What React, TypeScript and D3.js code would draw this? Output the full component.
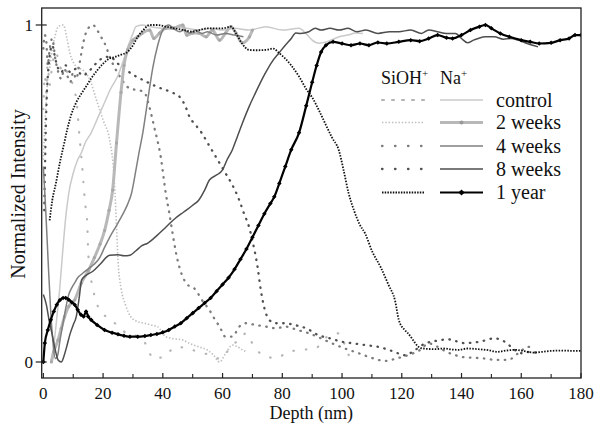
import React from 'react';
import * as d3 from 'd3';

type Pt = [number, number];

const xTicks = [0, 20, 40, 60, 80, 100, 120, 140, 160, 180];
const xMinorTicks = [10, 30, 50, 70, 90, 110, 130, 150, 170];
const yTicks = [0, 1];
const legendLabels = ['control', '2 weeks', '4 weeks', '8 weeks', '1 year'];

// Na+ profiles [depth nm, normalized intensity]
const naControl: Pt[] = [
  [2.5, 0], [3.5, 0.05], [4.5, 0.13], [5.5, 0.22], [6.5, 0.33], [7.5, 0.43], [8.5, 0.5], [10, 0.56],
  [11.5, 0.6], [12.7, 0.62], [14, 0.65], [16, 0.68], [18, 0.72], [20.5, 0.77], [22.5, 0.81], [25, 0.85],
  [27, 0.9], [28.5, 0.94], [30, 0.975], [31, 0.995], [33, 1.0], [36, 0.995], [40, 0.99], [44, 0.995],
  [48, 0.99], [52, 0.985], [56, 0.99], [60, 0.985], [64, 0.99], [69, 0.985], [74.5, 0.995], [80, 0.985],
  [85.6, 0.99], [87.8, 0.976], [90, 0.955], [92.2, 0.946], [95, 0.95], [99, 0.965], [102, 0.97],
  [104.5, 0.976], [107, 0.975],
];
const naTwoWeeks: Pt[] = [
  [2.7, 0], [3.5, 0.03], [4.9, 0.065], [6, 0.1], [7.1, 0.134], [8.5, 0.165], [10.5, 0.184], [12.7, 0.234],
  [15, 0.27], [17.1, 0.31], [19, 0.35], [20.5, 0.39], [22, 0.45], [23.2, 0.51], [24.5, 0.65], [26, 0.8],
  [27, 0.88], [28.2, 0.926], [30, 0.955], [31.6, 0.965], [33, 0.975], [35.6, 0.985], [37, 0.96],
  [38.9, 0.976], [41, 0.99], [43.3, 0.99], [46.7, 1.0], [48, 0.97], [50, 0.976], [52, 0.976],
  [54.5, 0.965], [56.6, 0.985], [59, 0.955], [61, 0.976], [62.8, 0.995], [64.5, 0.976], [66.6, 0.947],
  [69, 0.965], [70, 0.985],
];
const naFourWeeks: Pt[] = [
  [0, 0.58], [0.8, 0.45], [1.6, 0.3], [2.4, 0.16], [3.2, 0.06], [4, 0.01], [4.8, 0.02], [5.5, 0.06],
  [6.5, 0.11], [7.5, 0.16], [8.5, 0.2], [9.5, 0.22], [10.5, 0.235], [11.5, 0.25], [13, 0.262],
  [15.6, 0.28], [17, 0.29], [18.9, 0.31], [20.5, 0.34], [22.2, 0.37], [24.5, 0.405], [26.7, 0.44],
  [28.3, 0.47], [29.5, 0.5], [31, 0.57], [32, 0.62], [33.3, 0.68], [35, 0.78], [36.7, 0.876],
  [38.3, 0.94], [40, 0.985], [42, 1.0], [43.5, 0.99], [45.6, 0.98], [47, 0.985], [49, 0.976],
  [51, 0.985], [53, 0.975], [55, 0.98], [58, 0.97], [61, 0.975], [64, 0.97], [67, 0.965],
];
const naEightWeeks: Pt[] = [
  [0, 0.2], [1, 0.17], [2, 0.12], [3, 0.08], [4, 0.035], [5, 0.005], [6, 0.0], [7, 0.02], [7.8, 0.045],
  [9, 0.085], [10, 0.11], [11, 0.134], [12, 0.19], [12.8, 0.243], [14, 0.255], [16.7, 0.27], [19, 0.29],
  [22.2, 0.317], [25, 0.318], [27, 0.315], [29, 0.317], [31, 0.33], [33, 0.345], [35, 0.353],
  [38, 0.375], [41, 0.4], [44, 0.425], [47, 0.445], [50, 0.465], [52, 0.48], [54, 0.51], [55.6, 0.54],
  [58, 0.555], [60, 0.57], [61.5, 0.6], [63.3, 0.63], [65, 0.67], [66.7, 0.71], [69, 0.76],
  [71.1, 0.8], [73, 0.835], [74.5, 0.86], [76.5, 0.89], [78.9, 0.917], [81, 0.94], [83, 0.96],
  [84.5, 0.976], [86, 0.975], [88.9, 0.98], [91, 0.99], [93, 0.985], [96, 0.99], [99, 0.985],
  [102, 0.99], [105, 0.98], [108, 0.985], [112, 0.975], [116, 0.98], [119, 0.98], [123, 0.985],
  [126.6, 0.975], [129, 0.985], [132, 0.98], [135, 0.975], [138, 0.975], [140, 0.96], [142, 0.947],
  [144, 0.955], [145.6, 0.96], [148, 0.965], [151, 0.965], [154, 0.958], [156.6, 0.96], [159, 0.955],
  [162, 0.945], [165.6, 0.935],
];
const naOneYear: Pt[] = [
  [0, 0], [0.5, 0.056], [1.5, 0.095], [2.5, 0.125], [3.5, 0.15], [4.5, 0.17], [5.5, 0.183], [6.6, 0.19],
  [7.5, 0.19], [8.5, 0.185], [9.5, 0.177], [10.5, 0.17], [11.5, 0.155], [12.6, 0.14], [13.5, 0.135],
  [14.3, 0.15], [15, 0.135], [16, 0.125], [18, 0.11], [20.5, 0.095], [23, 0.087], [25, 0.082],
  [27, 0.078], [29, 0.075], [31.6, 0.075], [34, 0.077], [36, 0.08], [38, 0.083], [40, 0.088],
  [42, 0.095], [44, 0.105], [46, 0.115], [48, 0.13], [50, 0.145], [52, 0.16], [54, 0.175], [56, 0.19],
  [58, 0.21], [60, 0.23], [62, 0.25], [64, 0.275], [66, 0.305], [68, 0.335], [70, 0.37], [72, 0.405],
  [74, 0.44], [76, 0.47], [77.3, 0.49], [79, 0.53], [81, 0.58], [83, 0.63], [85.6, 0.68], [88, 0.76],
  [90, 0.83], [91.5, 0.88], [93, 0.92], [94.6, 0.94], [97, 0.95], [100, 0.945], [103, 0.94],
  [106, 0.945], [109, 0.94], [112, 0.948], [115, 0.945], [119, 0.95], [123, 0.955], [126, 0.952],
  [129, 0.96], [132, 0.97], [135, 0.962], [137, 0.96], [140, 0.97], [143, 0.985], [146, 0.995],
  [148, 1.0], [150, 0.99], [153, 0.975], [156, 0.965], [160, 0.955], [163, 0.95], [166, 0.945],
  [170, 0.947], [173, 0.955], [176, 0.96], [178, 0.97], [180, 0.97],
];

// SiOH+ profiles
const siControl: Pt[] = [
  [0, 0.75], [0.5, 0.85], [1, 0.8], [1.5, 0.9], [2, 0.82], [3, 0.88], [4, 0.92], [5, 0.9], [6, 0.87],
  [7, 0.88], [8, 0.86], [9, 0.84], [10, 0.82], [11, 0.78], [12.2, 0.66], [13, 0.58], [13.8, 0.49],
  [14.3, 0.446], [14.7, 0.41], [15, 0.33], [15.6, 0.27], [16.7, 0.214], [17.8, 0.175], [19, 0.155],
  [21, 0.134], [23, 0.12], [24.5, 0.112], [26, 0.1], [27.8, 0.085], [30, 0.08], [33, 0.07], [35, 0.04],
  [36.7, 0.01], [38, 0.012], [40, 0.014], [42, 0.03], [45, 0.045], [48, 0.04], [52, 0.03], [56, 0.02],
  [59, 0.01], [63.3, 0.05], [66, 0.07], [67.8, 0.085], [70.6, 0.045], [74.5, 0.016], [78, 0.012],
  [82, 0.03], [86.6, 0.036], [91, 0.04], [95, 0.075], [99, 0.085], [101, 0.05], [103, 0.0],
];
const siTwoWeeks: Pt[] = [
  [0, 0.6], [0.5, 0.7], [1, 0.78], [1.5, 0.84], [2.2, 0.876], [3, 0.93], [4, 0.97], [5, 0.995],
  [6.7, 1.0], [7.8, 0.965], [8.9, 0.916], [10, 0.89], [11.1, 0.876], [13.3, 0.866], [15.6, 0.837],
  [17.8, 0.777], [20, 0.718], [22.2, 0.659], [23.3, 0.59], [24, 0.5], [24.5, 0.4], [25, 0.3],
  [26, 0.22], [27.5, 0.17], [29.3, 0.134], [31.5, 0.12], [33.8, 0.115], [36, 0.11], [38.2, 0.105],
  [41, 0.075], [43, 0.07], [46.7, 0.065], [49, 0.055], [52, 0.045], [55, 0.035], [57, 0.02], [59, 0.0],
  [61, 0.025], [63.3, 0.05], [65, 0.045], [66.7, 0.036], [68, 0.03],
];
const siFourWeeks: Pt[] = [
  [0, 0.93], [0.5, 0.97], [1, 0.95], [1.5, 0.88], [2, 0.92], [3, 0.96], [4, 0.9], [5, 0.86], [6, 0.84],
  [7, 0.87], [8, 0.85], [9, 0.83], [10, 0.86], [11, 0.84], [12, 0.88], [13, 0.93], [14, 0.97],
  [15, 0.99], [16.6, 1.0], [18, 0.985], [19.3, 0.965], [20.5, 0.946], [22.5, 0.9], [24.9, 0.857],
  [26.5, 0.835], [27.7, 0.82], [29.5, 0.81], [31.6, 0.807], [33.8, 0.8], [35.5, 0.757], [37.1, 0.698],
  [39.3, 0.609], [41, 0.5], [42.2, 0.44], [43.3, 0.38], [44.5, 0.32], [45.6, 0.28], [47.8, 0.234],
  [51, 0.214], [53, 0.185], [55.6, 0.154], [57.5, 0.125], [59, 0.105], [61, 0.075], [63.3, 0.075],
  [65.6, 0.105], [67.8, 0.115], [71, 0.11], [74.5, 0.105], [78, 0.1], [81, 0.105], [85, 0.095],
  [89, 0.085], [93, 0.07], [96.7, 0.055], [101, 0.04], [105.6, 0.026], [110, 0.012], [114.5, 0.003],
  [118, 0.01], [122, 0.02], [126, 0.035], [129, 0.055], [132, 0.045], [135, 0.03], [138, 0.02],
  [141, 0.014], [145, 0.012], [148, 0.01], [151.6, 0.006], [155.5, 0.006], [159, 0.026],
  [162.3, 0.045], [164, 0.038],
];
const siEightWeeks: Pt[] = [
  [0.3, 0.45], [0.6, 0.6], [1, 0.75], [1.5, 0.85], [2, 0.9], [3, 0.94], [4, 0.9], [5, 0.87], [6, 0.86],
  [7.5, 0.88], [9, 0.86], [11, 0.87], [13, 0.85], [15, 0.86], [17, 0.88], [19.5, 0.9], [22.2, 0.906],
  [25, 0.885], [27.8, 0.866], [30.5, 0.85], [33.3, 0.837], [36, 0.825], [38.5, 0.815], [41, 0.807],
  [43, 0.8], [45.6, 0.787], [47.5, 0.76], [48.9, 0.728], [51, 0.703], [53, 0.68], [55, 0.65],
  [57, 0.62], [59, 0.59], [61, 0.56], [63, 0.53], [65.6, 0.48], [67.2, 0.44], [68.9, 0.4], [70, 0.36],
  [71.7, 0.283], [72.8, 0.214], [73.9, 0.164], [75.6, 0.125], [77.8, 0.115], [81, 0.115], [84, 0.11],
  [88, 0.1], [92, 0.08], [96, 0.07], [100, 0.06], [104, 0.055], [108, 0.05], [112, 0.045],
  [116, 0.035], [119, 0.025], [121, 0.02], [124.5, 0.036], [128, 0.056], [130, 0.06], [135.6, 0.067],
  [141, 0.056], [146, 0.06], [151, 0.07], [154.5, 0.06], [157.8, 0.036], [160, 0.026], [163, 0.03],
  [166, 0.025],
];
const siOneYear: Pt[] = [
  [2.1, 0.42], [3, 0.48], [4.2, 0.53], [5.5, 0.59], [7, 0.65], [8, 0.69], [9.2, 0.73], [11, 0.77],
  [13, 0.8], [14.5, 0.82], [15.9, 0.84], [18, 0.865], [20, 0.885], [22, 0.9], [24, 0.905], [26, 0.912],
  [28.2, 0.92], [30, 0.94], [31.6, 0.965], [33.5, 0.985], [35.5, 1.0], [38, 1.0], [41, 0.995],
  [44, 0.99], [47, 0.985], [50, 0.98], [52.2, 0.985], [55, 0.99], [58, 0.99], [60, 0.99],
  [62.8, 0.995], [64.5, 0.975], [66.5, 0.945], [68.9, 0.926], [71.5, 0.925], [74.5, 0.926], [77, 0.93],
  [78.9, 0.917], [81, 0.9], [83, 0.88], [85.6, 0.847], [88, 0.81], [90, 0.785], [92.2, 0.748],
  [94.5, 0.705], [96.7, 0.665], [98.9, 0.629], [100.5, 0.57], [102.2, 0.501], [104, 0.45],
  [105.8, 0.41], [107.8, 0.38], [110, 0.33], [113, 0.28], [115.5, 0.23], [117.8, 0.18], [119, 0.125],
  [121, 0.095], [122, 0.086], [123.3, 0.071], [124.5, 0.056], [125.6, 0.045], [127.2, 0.04],
  [131, 0.038], [134, 0.04], [137, 0.037], [139, 0.036], [142, 0.04], [145.6, 0.038], [149, 0.035],
  [152, 0.03], [155, 0.034], [158, 0.036], [161, 0.032], [164, 0.028], [167, 0.03], [170, 0.033],
  [174, 0.034], [177, 0.033], [180, 0.033],
];

const FONT = "'Liberation Serif', 'DejaVu Serif', serif";

type Style = { color: string; width: number; dash?: string; legendDash?: string; cap?: 'round' | 'butt' };

const siStyles: Style[] = [
  { color: '#b4b4b4', width: 2.2, dash: '0.5 12', legendDash: '2 8', cap: 'round' },
  { color: '#bdbdbd', width: 1.6, dash: '1.4 1.9', legendDash: '1.4 1.9', cap: 'butt' },
  { color: '#7c7c7c', width: 2.3, dash: '0.5 6.5', legendDash: '0.5 12.5', cap: 'round' },
  { color: '#505050', width: 2.3, dash: '0.5 6.5', legendDash: '0.5 12.5', cap: 'round' },
  { color: '#111111', width: 1.8, dash: '1.5 1.4', legendDash: '1.5 1.2', cap: 'butt' },
];
const naStyles: Style[] = [
  { color: '#cacaca', width: 1.5 },
  { color: '#b8b8b8', width: 3 },
  { color: '#808080', width: 1.5 },
  { color: '#4e4e4e', width: 1.5 },
  { color: '#000000', width: 2.2 },
];

const textStyle: React.CSSProperties = { fontFamily: FONT };

export default function App() {
  const left = 41.7, right = 581, top = 8, bottom = 378;
  const x = d3.scaleLinear().domain([-0.55, 180]).range([left, right]);
  const y = d3.scaleLinear().domain([-0.0475, 1.0504]).range([bottom, top]);
  const line = d3
    .line<Pt>()
    .x((d) => x(d[0]))
    .y((d) => y(d[1]))
    .curve(d3.curveMonotoneX);

  const siSeries = [siControl, siTwoWeeks, siFourWeeks, siEightWeeks, siOneYear];
  const naSeries = [naControl, naTwoWeeks, naFourWeeks, naEightWeeks, naOneYear];

  const renderSi = (i: number) => (
    <path
      key={'si' + i}
      d={line(siSeries[i]) || ''}
      fill="none"
      stroke={siStyles[i].color}
      strokeWidth={siStyles[i].width}
      strokeDasharray={siStyles[i].dash}
      strokeLinecap={siStyles[i].cap}
    />
  );
  const renderNa = (i: number) => (
    <path
      key={'na' + i}
      d={line(naSeries[i]) || ''}
      fill="none"
      stroke={naStyles[i].color}
      strokeWidth={naStyles[i].width}
      strokeLinejoin="round"
    />
  );

  const legendRowsY = [100, 122.5, 146, 169, 192.5];

  return (
    <svg width={603} height={433} style={{ position: 'absolute', left: 0, top: 0, background: '#fff' }}>
      <defs>
        <clipPath id="plot">
          <rect x={left} y={top} width={right - left} height={bottom - top} />
        </clipPath>
      </defs>
      <rect x={0} y={0} width={603} height={433} fill="#fff" />
      <g clipPath="url(#plot)">
        {renderSi(0)}
        {renderSi(1)}
        {renderSi(2)}
        {renderSi(3)}
        {renderNa(0)}
        {renderNa(1)}
        {naTwoWeeks.map((d, j) => (
          <circle key={'m2' + j} cx={x(d[0])} cy={y(d[1])} r={1.6} fill="#a8a8a8" />
        ))}
        {renderNa(2)}
        {renderNa(3)}
        {renderSi(4)}
        {renderNa(4)}
        {naOneYear.map((d, j) => (
          <rect
            key={'m4' + j}
            x={x(d[0]) - 1.6}
            y={y(d[1]) - 1.6}
            width={3.2}
            height={3.2}
            fill="#000"
            transform={`rotate(45 ${x(d[0])} ${y(d[1])})`}
          />
        ))}
      </g>

      {/* frame */}
      <rect x={left} y={top} width={right - left} height={bottom - top} fill="none" stroke="#222" strokeWidth={1.3} />

      {/* x ticks */}
      {xTicks.map((t) => (
        <g key={'xt' + t}>
          <line x1={x(t)} x2={x(t)} y1={bottom} y2={bottom - 5} stroke="#222" strokeWidth={1.2} />
          <text x={x(t)} y={399} fontSize={17} textAnchor="middle" fill="#111" style={textStyle}>
            {t}
          </text>
        </g>
      ))}
      {xMinorTicks.map((t) => (
        <line key={'xm' + t} x1={x(t)} x2={x(t)} y1={bottom} y2={bottom - 4} stroke="#222" strokeWidth={1.1} />
      ))}
      {/* y ticks */}
      {yTicks.map((t) => (
        <g key={'yt' + t}>
          <line x1={left - 6} x2={left + 5} y1={y(t)} y2={y(t)} stroke="#222" strokeWidth={1.2} />
          <text x={33} y={y(t) + 5.6} fontSize={17} textAnchor="end" fill="#111" style={textStyle}>
            {t}
          </text>
        </g>
      ))}

      <text x={(left + right) / 2} y={419} fontSize={18} textAnchor="middle" fill="#111" style={textStyle}>
        Depth (nm)
      </text>
      <text
        transform={`translate(25, 194) rotate(-90)`}
        fontSize={20}
        textAnchor="middle"
        fill="#111"
        style={textStyle}
      >
        Normalized Intensity
      </text>

      {/* legend */}
      <text x={381} y={84} fontSize={18} fill="#111" style={textStyle}>
        SiOH<tspan dy={-7} fontSize={11}>+</tspan>
      </text>
      <text x={440} y={84} fontSize={18} fill="#111" style={textStyle}>
        Na<tspan dy={-7} fontSize={11}>+</tspan>
      </text>
      {legendLabels.map((lab, i) => {
        const ly = legendRowsY[i];
        return (
          <g key={'lg' + i}>
            <line
              x1={382}
              x2={425}
              y1={ly}
              y2={ly}
              stroke={siStyles[i].color}
              strokeWidth={siStyles[i].width}
              strokeDasharray={siStyles[i].legendDash}
              strokeLinecap={siStyles[i].cap}
            />
            <line x1={440} x2={483} y1={ly} y2={ly} stroke={naStyles[i].color} strokeWidth={naStyles[i].width} />
            {i === 1 && <circle cx={461.5} cy={ly} r={2} fill="#999" />}
            {i === 4 && (
              <rect
                x={461.5 - 2.2}
                y={ly - 2.2}
                width={4.4}
                height={4.4}
                fill="#000"
                transform={`rotate(45 461.5 ${ly})`}
              />
            )}
            <text x={496} y={ly + 6.5} fontSize={20} fill="#111" style={textStyle}>
              {lab}
            </text>
          </g>
        );
      })}
    </svg>
  );
}
